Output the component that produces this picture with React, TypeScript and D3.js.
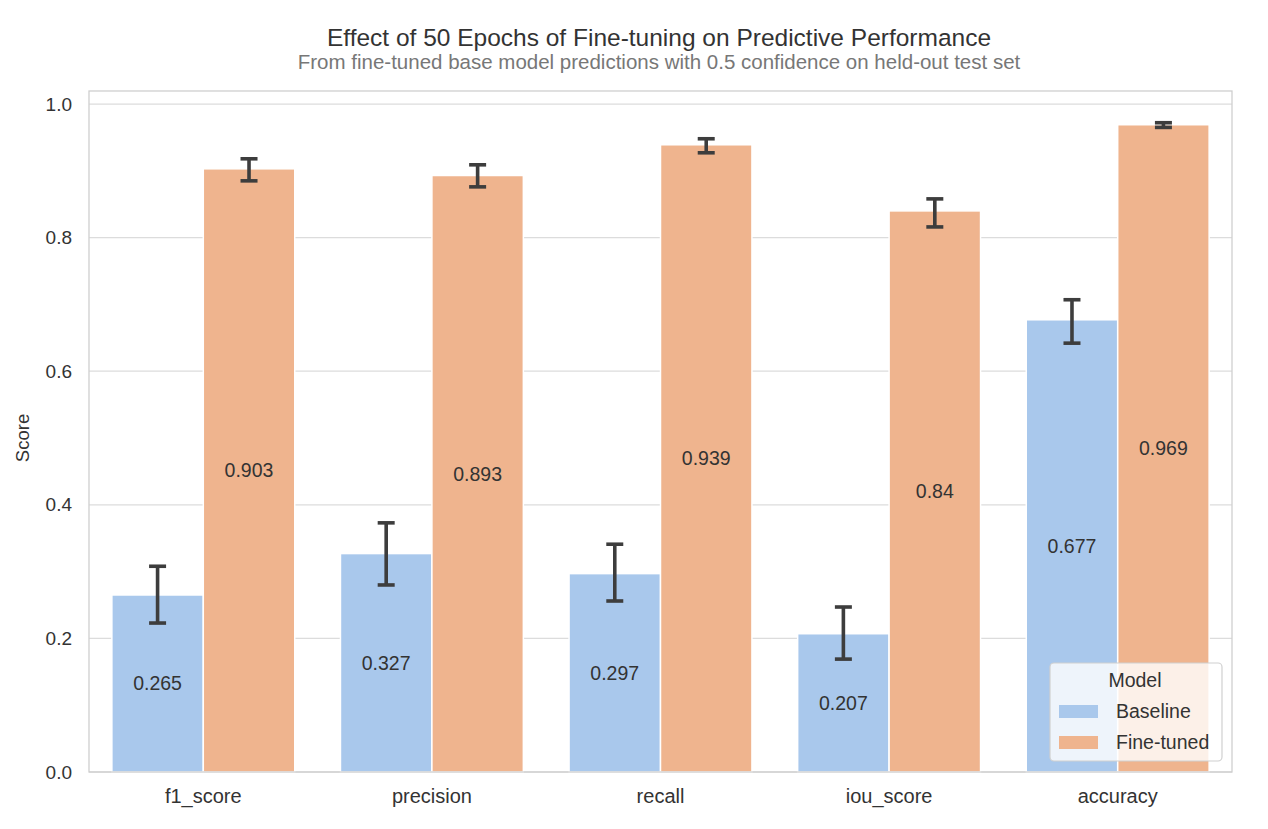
import React from "react";
import * as d3 from "d3";

const categories = ["f1_score", "precision", "recall", "iou_score", "accuracy"];
const models = ["Baseline", "Fine-tuned"];
const baselineValues = [0.265, 0.327, 0.297, 0.207, 0.677];
const finetunedValues = [0.903, 0.893, 0.939, 0.84, 0.969];
const baselineLow = [0.223, 0.28, 0.256, 0.169, 0.642];
const baselineHigh = [0.308, 0.373, 0.341, 0.247, 0.707];
const finetunedLow = [0.885, 0.876, 0.927, 0.816, 0.965];
const finetunedHigh = [0.918, 0.909, 0.948, 0.858, 0.972];
const yTicks = [0, 0.2, 0.4, 0.6, 0.8, 1.0];

const colors = ["#a9c8ec", "#efb48e"];
const FONT = "'Liberation Sans', Arial, sans-serif";

export default function App() {
  const W = 1268, H = 829;
  const left = 89, right = 1232, top = 91, bottom = 772;
  const x = d3.scaleBand<string>().domain(categories).range([left, right]).paddingInner(0).paddingOuter(0);
  const y = d3.scaleLinear().domain([0, 1.0195]).range([bottom, top]);
  const group = d3.scaleBand<string>().domain(models).range([0, x.bandwidth() * 0.8]);
  const offset = x.bandwidth() * 0.1;

  const series = [
    { name: models[0], vals: baselineValues, lo: baselineLow, hi: baselineHigh, color: colors[0] },
    { name: models[1], vals: finetunedValues, lo: finetunedLow, hi: finetunedHigh, color: colors[1] },
  ];

  return (
    <svg width={W} height={H} style={{ position: "absolute", left: 0, top: 0, background: "#fff" }} fontFamily={FONT}>
      <rect x={0} y={0} width={W} height={H} fill="#fff" />
      <text x={659} y={46} textAnchor="middle" fontSize={24.5} fill="#333">
        Effect of 50 Epochs of Fine-tuning on Predictive Performance
      </text>
      <text x={659} y={69} textAnchor="middle" fontSize={20.5} fill="#777">
        From fine-tuned base model predictions with 0.5 confidence on held-out test set
      </text>
      {yTicks.map((t) => (
        <g key={t}>
          <line x1={left} x2={right} y1={y(t)} y2={y(t)} stroke="#dcdcdc" strokeWidth={1.3} />
          <text x={72} y={y(t)} dy="0.35em" textAnchor="end" fontSize={19} fill="#333">
            {t.toFixed(1)}
          </text>
        </g>
      ))}
      {series.map((s) =>
        categories.map((c, ci) => {
          const bx = (x(c) as number) + offset + (group(s.name) as number);
          const bw = group.bandwidth();
          return (
            <rect key={s.name + c} x={bx} y={y(s.vals[ci])} width={bw} height={y(0) - y(s.vals[ci])}
              fill={s.color} stroke="#fff" strokeWidth={1.5} />
          );
        })
      )}
      {series.map((s) =>
        categories.map((c, ci) => {
          const cx = (x(c) as number) + offset + (group(s.name) as number) + group.bandwidth() / 2;
          return (
            <text key={"l" + s.name + c} x={cx} y={y(s.vals[ci] / 2)} dy="0.35em" textAnchor="middle" fontSize={19.5} fill="#333">
              {String(s.vals[ci])}
            </text>
          );
        })
      )}
      {series.map((s) =>
        categories.map((c, ci) => {
          const cx = (x(c) as number) + offset + (group(s.name) as number) + group.bandwidth() / 2;
          const y1 = y(s.hi[ci]), y2 = y(s.lo[ci]);
          return (
            <g key={"e" + s.name + c} stroke="#3d3d3d" strokeWidth={3.6}>
              <line x1={cx} x2={cx} y1={y1} y2={y2} />
              <line x1={cx - 8.5} x2={cx + 8.5} y1={y1} y2={y1} />
              <line x1={cx - 8.5} x2={cx + 8.5} y1={y2} y2={y2} />
            </g>
          );
        })
      )}
      <rect x={left} y={top} width={right - left} height={bottom - top} fill="none" stroke="#cfcfcf" strokeWidth={1.3} />
      {categories.map((c) => (
        <text key={"x" + c} x={(x(c) as number) + x.bandwidth() / 2} y={803} textAnchor="middle" fontSize={20} fill="#333">
          {c}
        </text>
      ))}
      <text transform={`translate(29,438) rotate(-90)`} textAnchor="middle" fontSize={18.5} fill="#333">
        Score
      </text>
      <g>
        <rect x={1050} y={663} width={172} height={98} rx={4} fill="#fff" fillOpacity={0.8} stroke="#d0d0d0" strokeWidth={1.2} />
        <text x={1135} y={680} dy="0.35em" textAnchor="middle" fontSize={19.5} fill="#333">Model</text>
        {models.map((m, i) => (
          <g key={"lg" + m}>
            <rect x={1059} y={705 + i * 31} width={39} height={13} fill={colors[i]} />
            <text x={1116} y={711.5 + i * 31} dy="0.35em" fontSize={19.5} fill="#333">{m}</text>
          </g>
        ))}
      </g>
    </svg>
  );
}
